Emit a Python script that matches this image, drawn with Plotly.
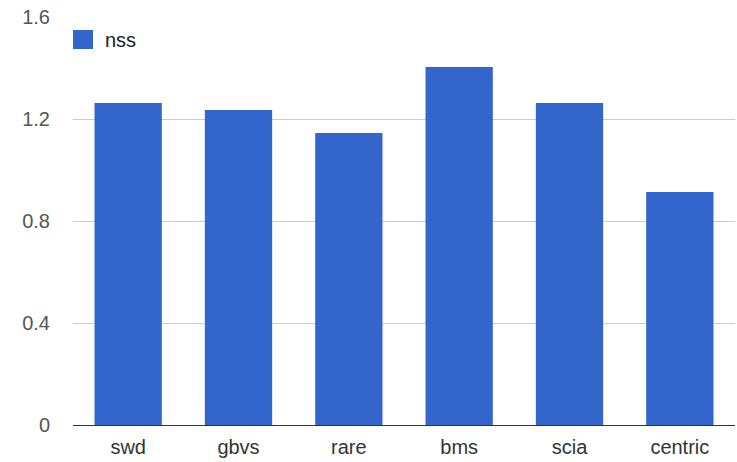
import plotly.graph_objects as go

categories = ["swd", "gbvs", "rare", "bms", "scia", "centric"]
nss = [1.263, 1.235, 1.145, 1.404, 1.263, 0.914]
series_name = "nss"
y_ticks = [0, 0.4, 0.8, 1.2, 1.6]
y_tick_labels = ["0", "0.4", "0.8", "1.2", "1.6"]

BAR = "#3366cc"
FONT = "Arial, Liberation Sans, sans-serif"
W, H = 737, 462
ML, MR, MT, MB = 73, 2, 17, 37
PW, PH = W - ML - MR, H - MT - MB
BASE_Y = H - MB  # pixel row of the plot bottom

fig = go.Figure()
fig.add_trace(go.Bar(x=categories, y=nss, name=series_name, showlegend=False,
                     marker=dict(color=BAR, line=dict(width=0))))

# custom legend (large swatch like the reference)
fig.add_shape(type="rect", xref="paper", yref="paper",
              x0=0, x1=20 / PW, y0=(BASE_Y - 49) / PH, y1=(BASE_Y - 30) / PH,
              fillcolor=BAR, line=dict(width=0), layer="above")
fig.add_annotation(xref="paper", yref="paper", x=(103 - ML) / PW, y=(BASE_Y - 40) / PH,
                   xanchor="left", yanchor="middle", text=series_name, showarrow=False,
                   font=dict(family=FONT, size=20, color="#222222"))

fig.update_layout(
    width=W, height=H,
    margin=dict(l=ML, r=MR, t=MT, b=MB),
    paper_bgcolor="white", plot_bgcolor="white",
    bargap=0.39,
    showlegend=False,
    font=dict(family=FONT, size=20, color="#444444"),
)
fig.update_yaxes(range=[0, 1.6], tickvals=y_ticks, ticktext=y_tick_labels,
                 showgrid=True, gridcolor="#cccccc", gridwidth=1, zeroline=True,
                 zerolinecolor="#333333", zerolinewidth=1, showline=False,
                 ticks="", ticklabelstandoff=22, tickfont=dict(size=20, color="#555555"))
fig.update_xaxes(showline=False, ticks="", ticklabelstandoff=8,
                 tickfont=dict(size=20, color="#333333"))

fig.write_html("out.html")
